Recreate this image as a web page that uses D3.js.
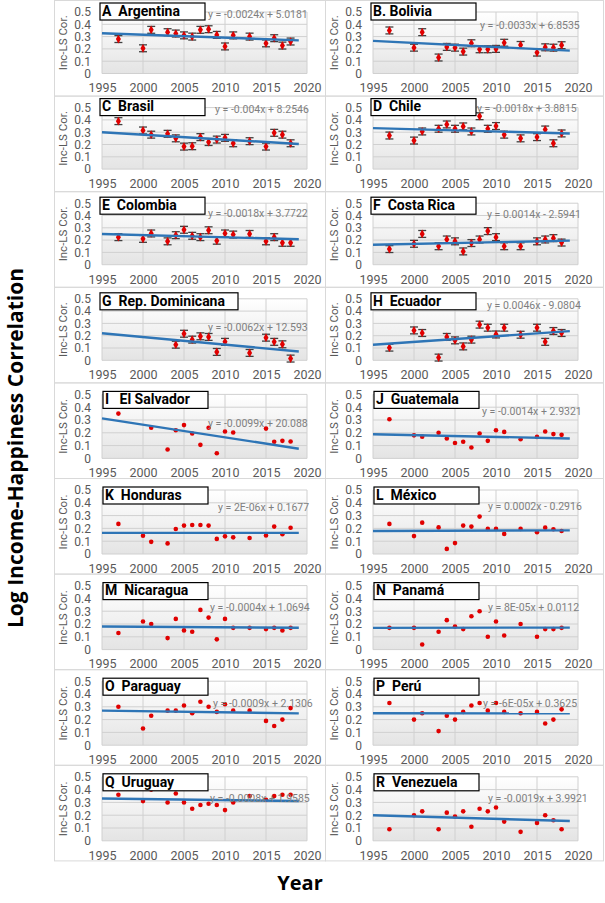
<!DOCTYPE html>
<html><head><meta charset="utf-8">
<script src="https://cdn.jsdelivr.net/npm/d3@7"></script>
<style>body{margin:0;background:#fff}svg{display:block}</style>
</head><body>
<script>
const years = [1997,2000,2001,2003,2004,2005,2006,2007,2008,2009,2010,2011,2013,2015,2016,2017,2018];
const xTicks = [1995,2000,2005,2010,2015,2020];
const yTicks = [0,0.1,0.2,0.3,0.4,0.5];
const yTickLabels = ["0","0.1","0.2","0.3","0.4","0.5"];
const labels = ["A  Argentina","B. Bolivia","C  Brasil","D  Chile","E  Colombia","F  Costa Rica","G  Rep. Dominicana","H  Ecuador","I   El Salvador","J  Guatemala","K  Honduras","L  México","M  Nicaragua","N  Panamá","O  Paraguay","P  Perú","Q  Uruguay","R  Venezuela"];
const equations = ["y = -0.0024x + 5.0181","y = -0.0033x + 6.8535","y = -0.004x + 8.2546","y = -0.0018x + 3.8815","y = -0.0018x + 3.7722","y = 0.0014x - 2.5941","y = -0.0062x + 12.593","y = 0.0046x - 9.0804","y = -0.0099x + 20.088","y = -0.0014x + 2.9321","y = 2E-06x + 0.1677","y = 0.0002x - 0.2916","y = -0.0004x + 1.0694","y = 8E-05x + 0.0112","y = -0.0009x + 2.1306","y = -6E-05x + 0.3625","y = -0.0008x + 1.9585","y = -0.0019x + 3.9921"];
const slopes = [-0.0024,-0.0033,-0.004,-0.0018,-0.0018,0.0014,-0.0062,0.0046,-0.0099,-0.0014,0.000002,0.0002,-0.0004,0.00008,-0.0009,-0.00006,-0.0008,-0.0019];
const trendAt1995 = [0.327,0.265,0.30,0.333,0.25,0.162,0.22,0.127,0.313,0.189,0.165,0.18,0.18,0.17,0.27,0.25,0.33,0.2];
const trendFrom = 1995, trendTo = 2019;
const errMargin = 0.028;
const errorBarPanels = 8;

const argentina = [0.28,0.205,0.355,0.336,0.325,0.31,0.30,0.355,0.36,0.314,0.22,0.31,0.30,0.245,0.287,0.227,0.26];
const bolivia   = [0.35,0.21,0.336,0.13,0.216,0.21,0.178,0.246,0.197,0.197,0.20,0.25,0.232,0.17,0.213,0.21,0.23];
const brasil    = [0.39,0.314,0.28,0.287,0.25,0.183,0.186,0.26,0.22,0.24,0.254,0.21,0.227,0.183,0.295,0.28,0.21];
const chile     = [0.273,0.232,0.306,0.328,0.363,0.328,0.347,0.306,0.43,0.328,0.35,0.28,0.25,0.26,0.322,0.21,0.29];
const colombia  = [0.224,0.21,0.254,0.19,0.24,0.284,0.235,0.224,0.28,0.195,0.254,0.245,0.25,0.19,0.224,0.178,0.178];
const costaRica = [0.127,0.17,0.25,0.15,0.205,0.19,0.108,0.176,0.205,0.273,0.224,0.15,0.15,0.19,0.205,0.216,0.18];
const repDom    = [null,null,null,null,0.127,0.216,0.168,0.195,0.19,0.068,0.15,null,0.06,0.184,0.15,0.13,0.014];
const ecuador   = [0.103,0.243,0.222,0.022,0.19,0.162,0.113,0.168,0.29,0.265,0.21,0.265,0.208,0.265,0.15,0.238,0.222];
const elSalvador= [0.35,null,0.24,0.07,0.22,0.26,0.194,0.106,0.24,0.04,0.21,0.202,null,0.233,0.13,0.137,0.132];
const guatemala = [0.306,0.18,0.17,0.2,0.155,0.12,0.13,0.085,0.194,0.137,0.22,0.207,0.15,0.168,0.21,0.19,0.184];
const honduras  = [0.235,0.143,0.095,0.083,0.195,0.222,0.227,0.227,0.222,0.118,0.138,0.13,0.125,0.145,0.214,0.155,0.205];
const mexico    = [0.235,0.14,0.245,0.208,0.04,0.085,0.222,0.214,0.292,0.196,0.196,0.157,0.196,0.17,0.206,0.193,0.18];
const nicaragua = [0.13,0.22,0.2,0.09,0.24,0.15,0.14,0.31,0.25,0.08,0.24,0.17,0.17,0.16,0.17,0.15,0.17];
const panama    = [0.17,0.17,0.04,0.14,0.23,0.18,0.16,0.26,0.3,0.1,0.22,0.11,0.2,0.1,0.16,0.16,0.17];
const paraguay  = [0.3,0.13,0.23,0.27,0.27,0.31,0.25,0.34,0.3,0.26,0.32,0.27,0.27,0.19,0.15,0.2,0.29];
const peru      = [0.33,0.2,0.25,0.11,0.23,0.2,0.26,0.31,0.33,0.27,0.33,0.26,0.25,0.26,0.17,0.2,0.28];
const uruguay   = [0.36,0.31,0.4,0.3,0.37,0.3,0.25,0.28,0.29,0.28,0.24,0.3,0.35,0.32,0.35,0.36,0.36];
const venezuela = [0.09,0.2,0.23,0.09,0.22,0.19,0.23,0.11,0.25,0.23,0.26,0.15,0.07,0.14,0.2,0.16,0.09];
const seriesValues = [argentina,bolivia,brasil,chile,colombia,costaRica,repDom,ecuador,elSalvador,guatemala,honduras,mexico,nicaragua,panama,paraguay,peru,uruguay,venezuela];

// layout (positions only)
const eqOffset = [[106,3],[107,14],[113,3],[104,2],[106,11],[114,12],[106,29],[114,7],[106,30],[109,18],[116,18],[115,17],[108,23],[115,23],[111,23],[110,23],[108,22],[115,22]];
const W = 605, H = 903;
const svg = d3.select("body").append("svg").attr("width",W).attr("height",H);
const defs = svg.append("defs");
const grad = defs.append("linearGradient").attr("id","bg").attr("x1",0).attr("y1",0).attr("x2",0).attr("y2",1);
grad.append("stop").attr("offset","0%").attr("stop-color","#ffffff");
grad.append("stop").attr("offset","100%").attr("stop-color","#e4e4e4");

const FONT = "Roboto, 'Open Sans', sans-serif";
const rowPitch = 95.6;

seriesValues.forEach((vals,i)=>{
  const col = i%2, row = Math.floor(i/2);
  const left = 102 + col*271, plotW = 205;
  const top = 12 + row*rowPitch, plotH = row<4 ? 61.5 : 64;
  const x = d3.scaleLinear().domain([1995,2020]).range([left,left+plotW]);
  const y = d3.scaleLinear().domain([0,0.5]).range([top+plotH,top]);

  // panel frame
  const px = col===0 ? 54 : 325, pw = col===0 ? 271 : 278;
  svg.append("rect").attr("x",px+0.5).attr("y",row*rowPitch+0.5).attr("width",pw).attr("height",rowPitch)
    .attr("fill","none").attr("stroke","#d9d9d9").attr("stroke-width",1);

  const g = svg.append("g");
  g.append("rect").attr("x",left).attr("y",top).attr("width",plotW).attr("height",plotH).attr("fill","url(#bg)");
  g.selectAll("line.hg").data(yTicks).join("line").attr("class","hg")
    .attr("x1",left).attr("x2",left+plotW).attr("y1",d=>y(d)).attr("y2",d=>y(d))
    .attr("stroke","#d0d0d0").attr("stroke-width",1);
  g.selectAll("line.vg").data(xTicks).join("line").attr("class","vg")
    .attr("y1",top).attr("y2",top+plotH).attr("x1",d=>x(d)).attr("x2",d=>x(d))
    .attr("stroke","#d0d0d0").attr("stroke-width",1);

  // axes
  const ya = d3.axisLeft(y).tickValues(yTicks).tickFormat((d,k)=>yTickLabels[k]).tickSize(0).tickPadding(11);
  const yg = g.append("g").attr("transform",`translate(${left},0)`).call(ya);
  yg.select(".domain").remove();
  yg.selectAll("text").attr("font-family",FONT).attr("font-size",12).attr("fill","#595959");
  const xa = d3.axisBottom(x).tickValues(xTicks).tickFormat(d3.format("d")).tickSize(0).tickPadding(10);
  const xg = g.append("g").attr("transform",`translate(0,${top+plotH})`).call(xa);
  xg.select(".domain").remove();
  xg.selectAll("text").attr("font-family",FONT).attr("font-size",12.5).attr("fill","#595959");

  g.append("text").attr("transform",`translate(${left-38},${top+plotH/2}) rotate(-90)`)
    .attr("text-anchor","middle").attr("dominant-baseline","middle")
    .attr("font-family",FONT).attr("font-size",11.5).attr("fill","#595959").text("Inc-LS Cor.");

  const pts = years.map((yr,k)=>({yr,v:vals[k]})).filter(d=>d.v!=null);
  if(i<errorBarPanels){
    const eb = g.append("g").attr("stroke","#404040").attr("stroke-width",1.3);
    eb.selectAll("line.v").data(pts).join("line").attr("x1",d=>x(d.yr)).attr("x2",d=>x(d.yr))
      .attr("y1",d=>y(d.v-errMargin)).attr("y2",d=>y(d.v+errMargin));
    eb.selectAll("line.t").data(pts).join("line").attr("x1",d=>x(d.yr)-4).attr("x2",d=>x(d.yr)+4)
      .attr("y1",d=>y(d.v+errMargin)).attr("y2",d=>y(d.v+errMargin));
    eb.selectAll("line.b").data(pts).join("line").attr("x1",d=>x(d.yr)-4).attr("x2",d=>x(d.yr)+4)
      .attr("y1",d=>y(d.v-errMargin)).attr("y2",d=>y(d.v-errMargin));
    g.selectAll("path.pt").data(pts).join("path").attr("class","pt")
      .attr("d",d3.symbol(d3.symbolDiamond,22))
      .attr("transform",d=>`translate(${x(d.yr)},${y(d.v)})`).attr("fill","#e00000");
  } else {
    g.selectAll("circle").data(pts).join("circle").attr("cx",d=>x(d.yr)).attr("cy",d=>y(d.v))
      .attr("r",2.3).attr("fill","#e00000");
  }
  // trendline
  const tl = [trendFrom,trendTo].map(t=>({t,v:trendAt1995[i]+slopes[i]*(t-trendFrom)}));
  g.append("path").datum(tl).attr("d",d3.line().x(d=>x(d.t)).y(d=>y(d.v)))
    .attr("stroke","#2e75b6").attr("stroke-width",2.4).attr("fill","none");

  // equation
  g.append("text").attr("x",left+eqOffset[i][0]).attr("y",top+eqOffset[i][1]).attr("dominant-baseline","middle")
    .attr("font-family",FONT).attr("font-size",10.5).attr("fill","#7f7f7f").text(equations[i]);

  // label box
  const bx = left + (row<4 ? -2 : 1);
  const by = top + (row<2 ? -9 : row<4 ? -6 : -3);
  const bw = i===6 ? 138 : 105;
  g.append("rect").attr("x",bx).attr("y",by).attr("width",bw).attr("height",17)
    .attr("fill","#fff").attr("stroke","#000").attr("stroke-width",1.2);
  g.append("text").attr("x",bx+2).attr("y",by+9).attr("dominant-baseline","middle")
    .attr("font-family",FONT).attr("font-weight","bold").attr("font-size",14).attr("fill","#000")
    .attr("xml:space","preserve").style("white-space","pre").text(labels[i]);
});

svg.append("text").attr("transform","translate(17,448) rotate(-90)").attr("text-anchor","middle")
  .attr("dominant-baseline","middle").attr("font-family","'Open Sans', sans-serif").attr("font-weight","bold")
  .attr("font-size",21).attr("fill","#000").text("Log Income-Happiness Correlation");
svg.append("text").attr("x",300).attr("y",885).attr("text-anchor","middle").attr("dominant-baseline","middle")
  .attr("font-family","'Open Sans', sans-serif").attr("font-weight","bold").attr("font-size",20).attr("fill","#000").text("Year");
</script>
</body></html>
